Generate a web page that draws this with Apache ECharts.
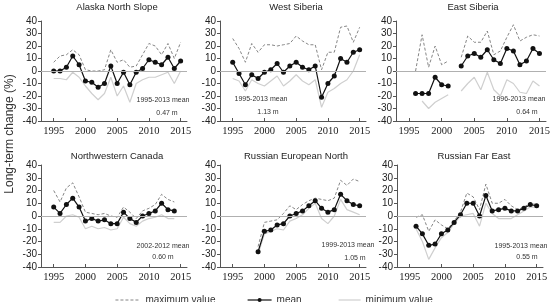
<!DOCTYPE html>
<html><head><meta charset="utf-8">
<script src="https://cdn.jsdelivr.net/npm/echarts@6/dist/echarts.min.js"></script>
<style>html,body{margin:0;padding:0;background:#fff}#c{width:554px;height:302px}</style>
</head><body><div id="c"></div>
<script>
const years = [1995,1996,1997,1998,1999,2000,2001,2002,2003,2004,2005,2006,2007,2008,2009,2010,2011,2012,2013,2014,2015];
const xTicks = [1995,2000,2005,2010,2015];
const yTicks = [-40,-30,-20,-10,0,10,20,30,40];
const titles = ['Alaska North Slope','West Siberia','East Siberia','Northwestern Canada','Russian European North','Russian Far East'];
const periods = ['1995-2013 mean','1995-2013 mean','1996-2013 mean','2002-2012 mean','1999-2013 mean','1995-2013 mean'];
const meanDepth = ['0.47 m','1.13 m','0.64 m','0.60 m','1.05 m','0.55 m'];

const alaskaMean = [0,0,3,12,5,-8,-9,-13,-10,4,-10,-1,-11,-1,2,9,7,5,11,2,8];
const alaskaMax  = [7,12,13,17,13,1,0,0,1,17,7,9,3,4,13,22,20,13,22,10,23];
const alaskaMin  = [-6,-6,-7,-1,-5,-12,-18,-23,-18,-5,-20,-12,-25,-10,-7,-5,-5,-3,-1,-10,0];

const wsibMean = [7,-2,-11,-3,-6,-1,1,6,-1,4,7,3,1,4,-21,-10,-4,10,7,15,17];
const wsibMax  = [26,18,7,22,15,21,21,20,21,22,28,24,21,21,1,15,15,35,36,23,35];
const wsibMin  = [-6,-8,-16,-7,-10,-12,-8,-4,-12,-8,-3,-8,-11,-7,-29,-17,-14,-10,-7,0,13];

const esibMean = [null,-18,-18,-18,-5,-11,-12,null,4,12,14,11,17,9,6,18,16,5,8,18,14];
const esibMax  = [null,0,29,3,20,5,8,null,11,28,23,23,32,13,16,27,37,24,27,29,28];
const esibMin  = [null,null,-24,-30,-25,-22,-19,null,-16,-10,-5,-15,-1,-15,-20,-7,-10,-17,-18,-8,-12];

const nwcMean = [7,2,9,14,7,-4,-2,-4,-3,-6,-6,3,-2,-5,0,2,4,10,5,4,null];
const nwcMax  = [20,11,22,26,15,3,2,1,2,0,-1,7,3,-2,4,6,9,17,13,11,null];
const nwcMin  = [-5,-5,0,1,-1,-10,-8,-10,-9,-11,-10,-1,-6,-8,-4,-2,-1,1,-2,-2,null];

const renMean = [null,null,null,null,-28,-12,-11,-7,-6,0,2,4,8,12,6,3,5,17,12,9,8];
const renMax  = [null,null,null,null,-24,-5,-4,-3,2,8,5,9,12,14,13,12,14,28,24,29,27];
const renMin  = [null,null,null,null,-30,-14,-12,-10,-11,-4,-2,1,6,10,-2,-6,0,13,5,3,1];

const rfeMean = [null,-8,-14,-23,-22,-14,-11,-5,1,10,10,0,16,4,5,6,4,4,6,9,8];
const rfeMax  = [null,-1,1,-12,-3,-7,-10,-4,3,18,15,5,25,10,10,13,8,5,7,10,9];
const rfeMin  = [null,-10,-20,-34,-25,-17,-13,-6,0,1,2,-8,10,2,-2,-2,-2,1,4,7,7];

const panels = [
  [alaskaMax, alaskaMean, alaskaMin],
  [wsibMax, wsibMean, wsibMin],
  [esibMax, esibMean, esibMin],
  [nwcMax, nwcMean, nwcMin],
  [renMax, renMean, renMin],
  [rfeMax, rfeMean, rfeMin]
];

// layout (pixels)
const gridPos = [
  {left:41, top:21, width:146, height:100},
  {left:220, top:21, width:146, height:100},
  {left:396, top:21, width:150, height:100},
  {left:41, top:165, width:146, height:102},
  {left:220, top:165, width:146, height:102},
  {left:397, top:165, width:146, height:102}
];
const titlePos = [[117,7],[296,7],[473,7],[117,156],[296,156],[474,156]];
const notePos = [[163,100,167,113],[261,99,268,112],[519,99,527,112],[163,246,163,257],[348,245,355,258],[521,246,527,257]];

const toData = arr => years.map((y,i) => [y, arr[i] === null ? '-' : arr[i]]);

const MAXC = '#777', MINC = '#cfcfcf', MEANC = '#111';
const grid = [], xAxis = [], yAxis = [], series = [], graphic = [];
panels.forEach((p, k) => {
  grid.push(Object.assign({containLabel:false}, gridPos[k]));
  xAxis.push({
    type:'value', gridIndex:k, min:1993, max:2016,
    axisLine:{show:true, onZero:false, lineStyle:{color:'#555', width:1}},
    axisTick:{show:true, inside:true, length:3, customValues:xTicks, lineStyle:{color:'#555'}},
    axisLabel:{customValues:xTicks, formatter:v => String(v), fontFamily:'Liberation Serif', fontSize:10.5, color:'#222', margin:5},
    splitLine:{show:false}
  });
  yAxis.push({
    type:'value', gridIndex:k, min:-40, max:40, interval:10,
    axisLine:{show:true, lineStyle:{color:'#555', width:1}},
    axisTick:{show:true, length:3, lineStyle:{color:'#555'}},
    axisLabel:{fontFamily:'Liberation Sans', fontSize:10, color:'#222', margin:4},
    splitLine:{show:false}
  });
  series.push({
    name:'maximum value', type:'line', xAxisIndex:k, yAxisIndex:k, data:toData(p[0]),
    symbol:'none', connectNulls:false, silent:true, color:MAXC,
    itemStyle:{color:MAXC},
    lineStyle:{color:MAXC, width:0.9, type:[3,2]}, z:2,
    markLine:{silent:true, symbol:'none', label:{show:false},
      lineStyle:{color:'#b0b0b0', width:1, type:'solid'}, data:[{yAxis:0}], animation:false}
  });
  series.push({
    name:'minimum value', type:'line', xAxisIndex:k, yAxisIndex:k, data:toData(p[2]),
    symbol:'none', connectNulls:false, silent:true, color:MINC,
    itemStyle:{color:MINC},
    lineStyle:{color:MINC, width:1.2}, z:2
  });
  series.push({
    name:'mean', type:'line', xAxisIndex:k, yAxisIndex:k, data:toData(p[1]),
    symbol:'circle', symbolSize:5, connectNulls:false, silent:true, color:MEANC,
    itemStyle:{color:MEANC}, lineStyle:{color:MEANC, width:1.2}, z:3
  });
  graphic.push({type:'text', x:titlePos[k][0], y:titlePos[k][1],
    style:{text:titles[k], textAlign:'center', textVerticalAlign:'middle', font:'9.5px "Liberation Sans"', fill:'#222'}});
  graphic.push({type:'text', x:notePos[k][0], y:notePos[k][1],
    style:{text:periods[k], textAlign:'center', textVerticalAlign:'middle', font:'7px "Liberation Sans"', fill:'#333'}});
  graphic.push({type:'text', x:notePos[k][2], y:notePos[k][3],
    style:{text:meanDepth[k], textAlign:'center', textVerticalAlign:'middle', font:'7px "Liberation Sans"', fill:'#333'}});
});
graphic.push({type:'text', x:10, y:134, rotation:Math.PI/2,
  style:{text:'Long-term change (%)', textAlign:'center', textVerticalAlign:'middle', font:'12px "Liberation Sans"', fill:'#333'}});

const legText = {fontFamily:'Liberation Sans', fontSize:10, color:'#333'};
const option = {
  animation:false,
  backgroundColor:'#fff',
  grid, xAxis, yAxis, series, graphic,
  legend:[
    {left:110, top:290, itemWidth:25, itemHeight:8, selectedMode:false, textStyle:legText,
     itemStyle:{color:'rgba(0,0,0,0)', borderWidth:0}, lineStyle:{width:0.9, type:[3,2]}, data:['maximum value']},
    {left:242, top:290, itemWidth:24, itemHeight:5, selectedMode:false, textStyle:legText,
     lineStyle:{width:1.2}, data:['mean']},
    {left:333, top:290, itemWidth:22, itemHeight:8, selectedMode:false, textStyle:legText,
     itemStyle:{color:'rgba(0,0,0,0)', borderWidth:0}, lineStyle:{width:1.2}, data:['minimum value']}
  ]
};
const chart = echarts.init(document.getElementById('c'), null, {renderer:'canvas'});
chart.setOption(option);
</script></body></html>
